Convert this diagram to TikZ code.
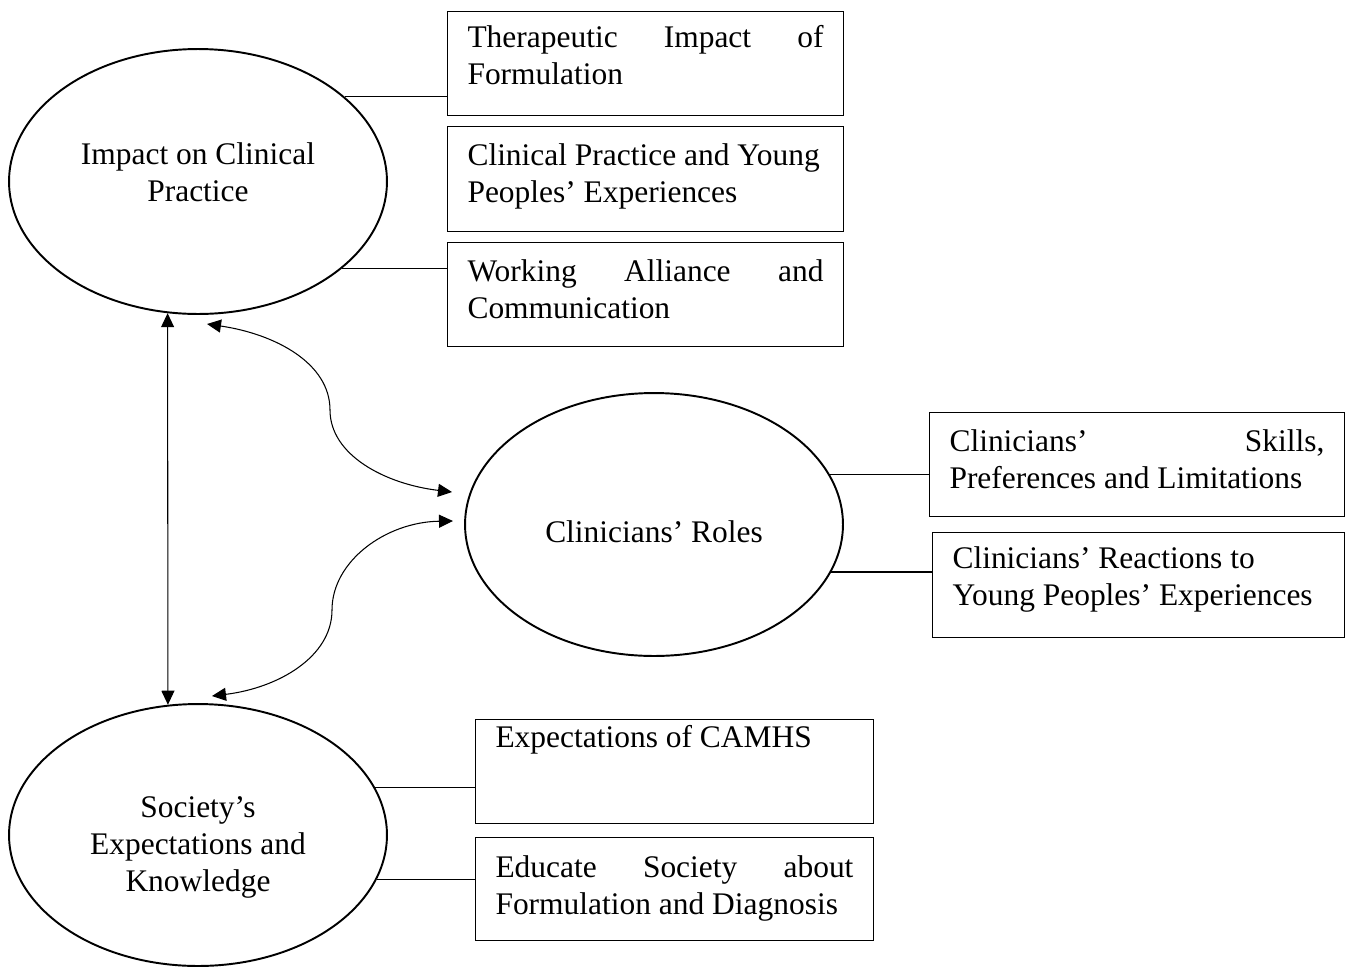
\documentclass[tikz,border=0pt]{standalone}
\usepackage{fontspec}
\setmainfont{Liberation Serif}
\usepackage{tikz}
\usetikzlibrary{shapes.geometric, arrows.meta}

\begin{document}
\begin{tikzpicture}[x=0.02cm, y=-0.02cm, font=\fontsize{17.9}{21}\selectfont, >={Triangle[length=0.28cm, width=0.26cm]}]
    \tikzstyle{topic} = [ellipse, draw, line width=1.1pt, minimum width=7.56cm, minimum height=5.26cm, inner sep=0pt, align=center]
    \tikzstyle{theme} = [rectangle, draw, line width=0.6pt, anchor=north west, inner xsep=0.4cm, inner ysep=0pt, text width=7.12cm, align=flush left]
    \tikzstyle{link} = [line width=0.6pt]
    \tikzstyle{both} = [<->, line width=0.6pt]

    \useasboundingbox (0,0) rectangle (1351,967);

    % main themes
    \node (e1) [topic, minimum height=5.3cm, text height=0.78cm, text depth=0cm] at (198,181.5) {Impact on Clinical\\Practice};
    \node (e2) [topic, text height=0.7cm, text depth=0cm] at (654,524.5) {Clinicians’ Roles};
    \node (e3) [topic, minimum height=5.24cm, text height=2.24cm, text depth=0cm] at (198,835) {Society’s\\Expectations and\\Knowledge};

    % subthemes
    \node (b1) [theme, text height=0.72cm, text depth=1.36cm] at (447,11) {Therapeutic\hfill Impact\hfill of\\Formulation};
    \node (b2) [theme, text height=0.78cm, text depth=1.32cm] at (447,126) {\mbox{Clinical Practice and Young}\\Peoples’ Experiences};
    \node (b3) [theme, text height=0.78cm, text depth=1.30cm] at (447,242) {Working\hfill Alliance\hfill and\\Communication};
    \node (b4) [theme, text width=7.5cm, text height=0.78cm, text depth=1.30cm] at (929,412) {Clinicians’\hfill Skills,\\Preferences and Limitations};
    \node (b5) [theme, text width=7.44cm, text height=0.72cm, text depth=1.38cm] at (932,532) {Clinicians’ Reactions to\\Young Peoples’ Experiences};
    \node (b6) [theme, text width=7.16cm, text height=0.56cm, text depth=1.52cm] at (475,719) {Expectations of CAMHS};
    \node (b7) [theme, text width=7.16cm, text height=0.8cm, text depth=1.26cm] at (475,837) {Educate\hfill Society\hfill about\\Formulation and Diagnosis};

    \draw [link] (e1.30) -- (e1.30 -| b1.west);
    \draw [link] (e1.-31) -- (e1.-31 -| b3.west);
    \draw [link] (e2.16) -- (e2.16 -| b4.west);
    \draw [link] (e2.-15) -- (e2.-15 -| b5.west);
    \draw [link] (e3.15) -- (e3.15 -| b6.west);
    \draw [link] (e3.-14) -- (e3.-14 -| b7.west);

    % links between themes
    \draw [both] (e1.257) -- (e3.103);
    \coordinate (upA) at (207,324);
    \coordinate (upM) at (330,410);
    \coordinate (upB) at (452,492);
    \draw [both] (upA) .. controls (275,334) and (330,363) .. (upM) .. controls (330,455) and (385,484) .. (upB);
    \coordinate (loA) at (212,696);
    \coordinate (loM) at (332,610);
    \coordinate (loB) at (453,521);
    \draw [both] (loA) .. controls (278,688) and (332,657) .. (loM) .. controls (332,561) and (386,522) .. (loB);
\end{tikzpicture}
\end{document}
